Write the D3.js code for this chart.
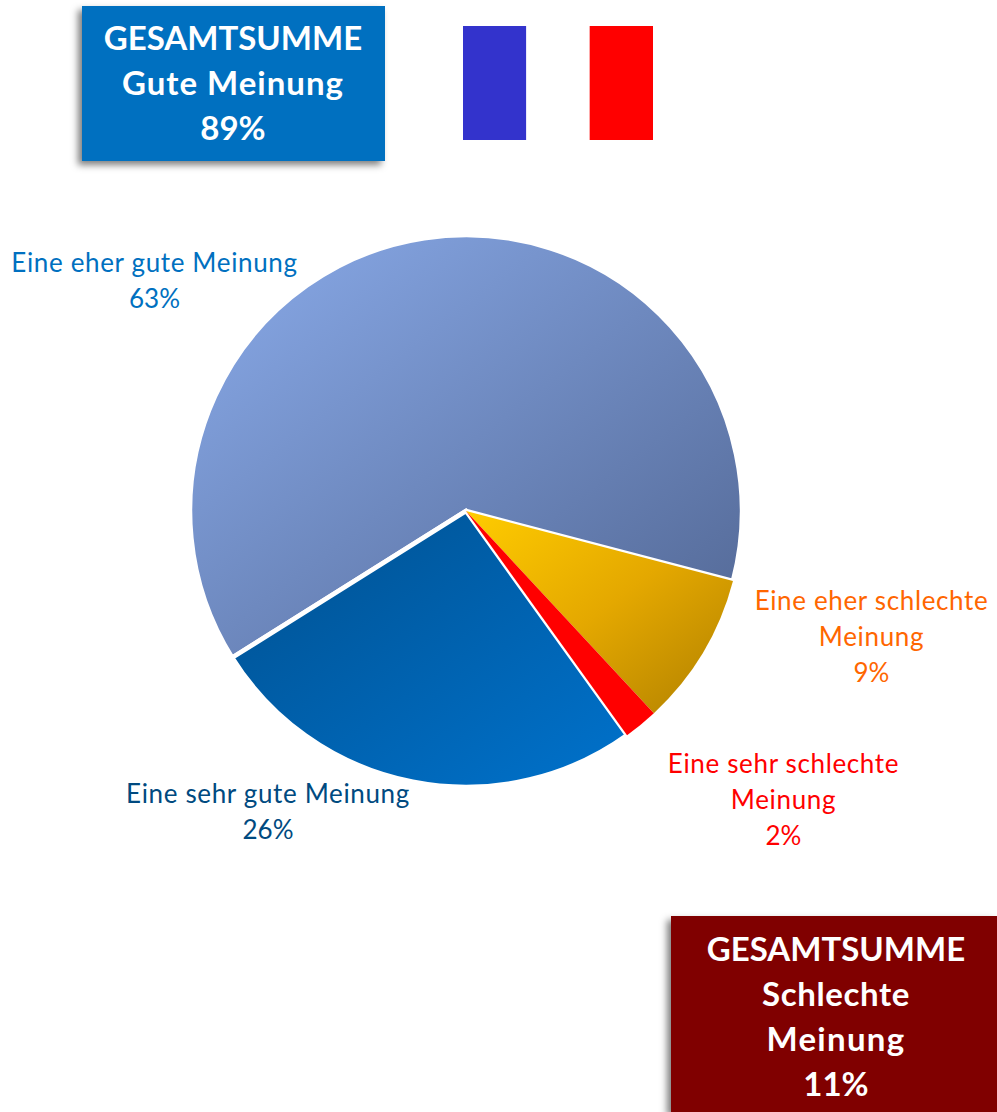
<!DOCTYPE html>
<html><head><meta charset="utf-8">
<script src="https://cdn.jsdelivr.net/npm/d3@7/dist/d3.min.js"></script>
<style>html,body{margin:0;padding:0;background:#fff;overflow:hidden}svg{display:block}text{font-family:Lato,"Open Sans",sans-serif}</style>
</head><body><svg id="c" width="997" height="1112"></svg>
<script>
const categories=["Eine eher gute Meinung","Eine eher schlechte Meinung","Eine sehr schlechte Meinung","Eine sehr gute Meinung"];
const values=[63,9,2,26];
const sliceColors=[["#8aabea","#526794"],["#ffcc00","#e4a800","#b08000"],["#ff0000","#ff0000"],["#00508f","#0072cc"]];
const labelColors=["#0070c0","#ff6600","#ff0000","#004a80"];
const labelLines=[["Eine eher gute Meinung","63%"],["Eine eher schlechte","Meinung","9%"],["Eine sehr schlechte","Meinung","2%"],["Eine sehr gute Meinung","26%"]];
const labelAnchors=[[154.5,272],[871.5,610],[783.5,773],[268,803]];
const flagColors=["#3333cc","#ffffff","#ff0000"];
const boxes=[
 {x:82,y:6,w:303,h:155,cx:233,fill:"#0070c0",lines:["GESAMTSUMME","Gute Meinung","89%"],spacing:[0,1,0],top:50},
 {x:671,y:916,w:326,h:196,cx:836,fill:"#800000",lines:["GESAMTSUMME","Schlechte","Meinung","11%"],spacing:[0,.6,1.3,0],top:961}
];
const svg=d3.select("#c"),defs=svg.append("defs");
const f=defs.append("filter").attr("id","sh").attr("x","-10%").attr("y","-10%").attr("width","120%").attr("height","125%");
f.append("feDropShadow").attr("dx",-4).attr("dy",4).attr("stdDeviation",3.5).attr("flood-color","#000").attr("flood-opacity",.5);

const cx=466,cy=511,r=276;
const start=237.9*Math.PI/180;
const pie=d3.pie().sort(null).startAngle(start).endAngle(start+2*Math.PI);
const arcs=pie(values);
const arc=d3.arc().innerRadius(0).outerRadius(r);
sliceColors.forEach((c,i)=>{
 const g=defs.append("linearGradient").attr("id","g"+i).attr("x1",0).attr("y1",0).attr("x2",1).attr("y2",1);
 c.forEach((col,k)=>g.append("stop").attr("offset",k/(c.length-1)).attr("stop-color",col));
});
const drawOrder=[0,3,1,2];
svg.append("g").attr("transform",`translate(${cx},${cy})`).selectAll("path").data(drawOrder).join("path")
 .attr("d",i=>arc(arcs[i]))
 .attr("fill",i=>`url(#g${i})`)
 .attr("stroke",i=>(i==0||i==3)?"#fff":"none")
 .attr("stroke-width",4.6).attr("stroke-linejoin","miter");

svg.append("g").selectAll("g").data(labelLines).join("g").each(function(lines,i){
 d3.select(this).selectAll("text").data(lines).join("text")
  .attr("x",labelAnchors[i][0]).attr("y",(d,k)=>labelAnchors[i][1]+k*36)
  .attr("text-anchor","middle").attr("font-size",26).attr("letter-spacing",d=>/%/.test(d)?0:.65).attr("fill",labelColors[i]).text(d=>d);
});

const fx=d3.scaleBand().domain(flagColors).range([463,653]);
svg.append("g").selectAll("rect").data(flagColors).join("rect")
 .attr("x",d=>fx(d)).attr("y",26).attr("width",fx.bandwidth()).attr("height",114).attr("fill",d=>d);

boxes.forEach(b=>{
 const g=svg.append("g");
 g.append("rect").attr("x",b.x).attr("y",b.y).attr("width",b.w).attr("height",b.h).attr("fill",b.fill).attr("filter","url(#sh)");
 g.selectAll("text").data(b.lines).join("text").attr("x",b.cx).attr("y",(d,k)=>b.top+k*45)
  .attr("text-anchor","middle").attr("font-size",33).attr("font-weight",700).attr("letter-spacing",(d,k)=>b.spacing[k]).attr("fill","#fff").text(d=>d);
});
</script></body></html>
